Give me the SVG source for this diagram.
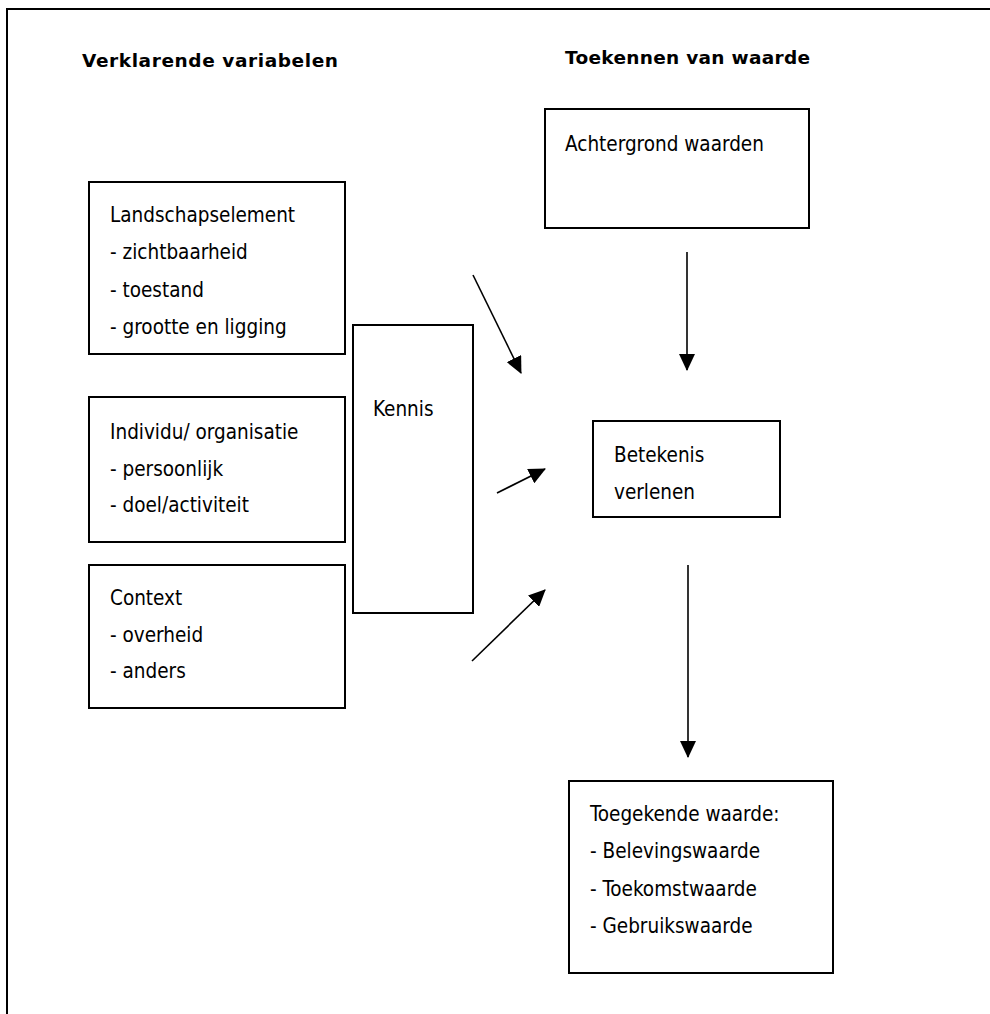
<svg xmlns="http://www.w3.org/2000/svg" width="990" height="1014" viewBox="0 0 990 1014">
<style>
.box{fill:#fff;stroke:#000;stroke-width:2}
.t{font-family:"DejaVu Sans Condensed","DejaVu Sans",sans-serif;font-stretch:condensed;font-size:20.5px;fill:#000}
.h{font-family:"DejaVu Sans","Liberation Sans",sans-serif;font-weight:bold;font-size:18.5px;fill:#000}
.c{stroke:#000;stroke-width:1.6;fill:none;marker-end:url(#ah)}
</style>
<defs>
<marker id="ah" markerUnits="userSpaceOnUse" markerWidth="17" markerHeight="16" refX="16" refY="8" orient="auto">
<path d="M0,0 L17,8 L0,16 z" fill="#000"/>
</marker>
</defs>
<rect width="990" height="1014" fill="#fff"/>
<path d="M7,1014 V9 H990" fill="none" stroke="#000" stroke-width="2"/>
<g id="headers">
<text class="h" x="82" y="67" textLength="256" lengthAdjust="spacing">Verklarende variabelen</text>
<text class="h" x="565" y="64" textLength="245" lengthAdjust="spacing">Toekennen van waarde</text>
</g>
<g id="landschapselement">
<rect class="box" x="89" y="182" width="256" height="172"/>
<text class="t" x="110" y="222">Landschapselement</text>
<text class="t" x="110" y="259">- zichtbaarheid</text>
<text class="t" x="110" y="297">- toestand</text>
<text class="t" x="110" y="334">- grootte en ligging</text>
</g>
<g id="individu">
<rect class="box" x="89" y="397" width="256" height="145"/>
<text class="t" x="110" y="439">Individu/ organisatie</text>
<text class="t" x="110" y="476">- persoonlijk</text>
<text class="t" x="110" y="512">- doel/activiteit</text>
</g>
<g id="context">
<rect class="box" x="89" y="565" width="256" height="143"/>
<text class="t" x="110" y="605">Context</text>
<text class="t" x="110" y="642">- overheid</text>
<text class="t" x="110" y="678">- anders</text>
</g>
<g id="kennis">
<rect class="box" x="353" y="325" width="120" height="288"/>
<text class="t" x="373" y="416">Kennis</text>
</g>
<g id="achtergrond">
<rect class="box" x="545" y="109" width="264" height="119"/>
<text class="t" x="565" y="151">Achtergrond waarden</text>
</g>
<g id="betekenis">
<rect class="box" x="593" y="421" width="187" height="96"/>
<text class="t" x="614" y="462">Betekenis</text>
<text class="t" x="614" y="499">verlenen</text>
</g>
<g id="toegekende">
<rect class="box" x="569" y="781" width="264" height="192"/>
<text class="t" x="590" y="821">Toegekende waarde:</text>
<text class="t" x="590" y="858">- Belevingswaarde</text>
<text class="t" x="590" y="896">- Toekomstwaarde</text>
<text class="t" x="590" y="933">- Gebruikswaarde</text>
</g>
<g id="connectors">
<line class="c" x1="473" y1="275" x2="521" y2="373"/>
<line class="c" x1="497" y1="493" x2="545" y2="469"/>
<line class="c" x1="472" y1="661" x2="545" y2="590"/>
<line class="c" x1="687" y1="252" x2="687" y2="370"/>
<line class="c" x1="688" y1="565" x2="688" y2="757"/>
</g>
</svg>
